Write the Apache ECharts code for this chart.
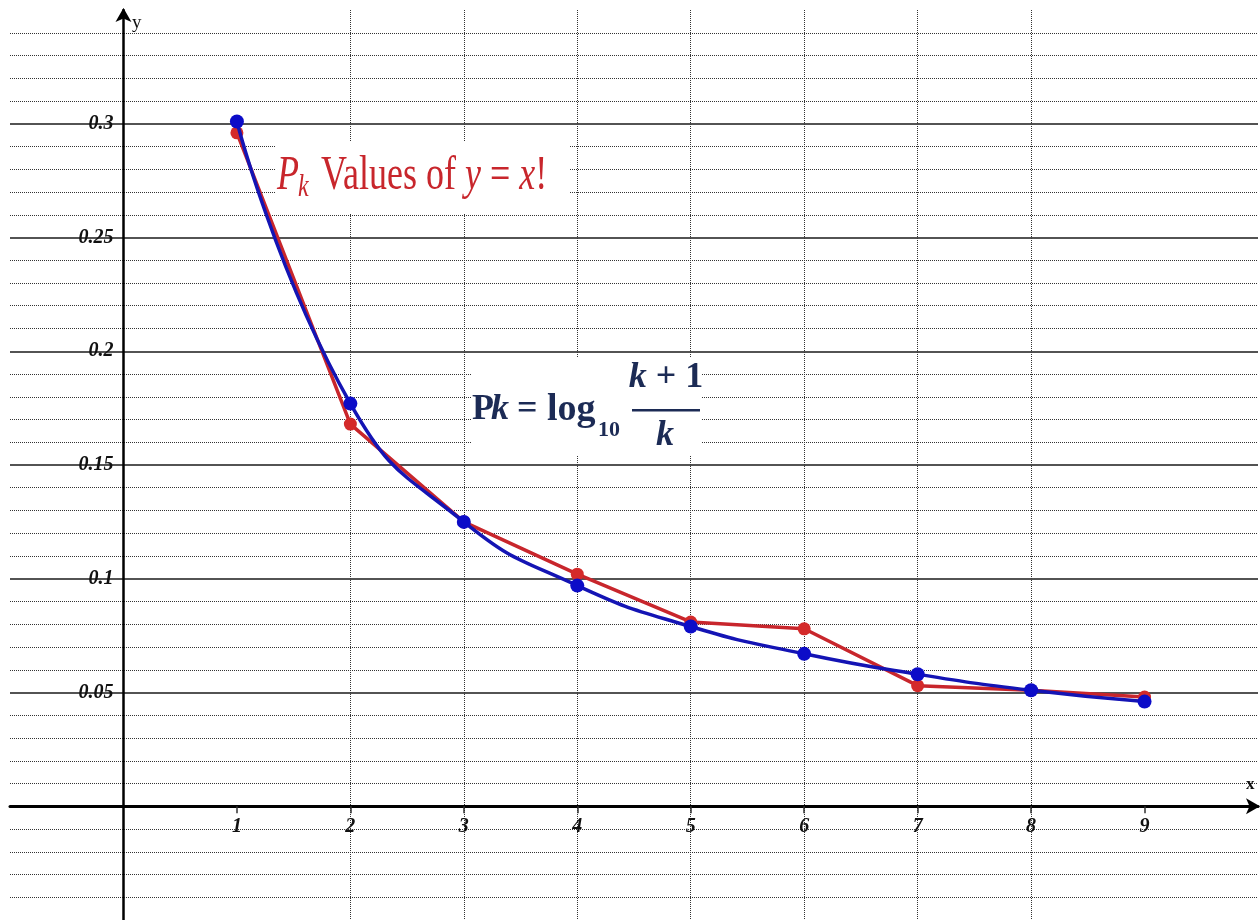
<!DOCTYPE html>
<html>
<head>
<meta charset="utf-8">
<script src="https://cdn.jsdelivr.net/npm/echarts@6/dist/echarts.min.js"></script>
<style>
html,body{margin:0;padding:0;background:#fff;}
#chart{width:1260px;height:920px;}
</style>
</head>
<body>
<div id="chart"></div>
<script>
// ---- data ----
var kValues = [1, 2, 3, 4, 5, 6, 7, 8, 9];
var factorialPk = [0.296, 0.168, 0.125, 0.102, 0.081, 0.078, 0.053, 0.051, 0.048];
var benfordPk = [0.301, 0.177, 0.125, 0.097, 0.079, 0.067, 0.058, 0.051, 0.046];
var xTickLabels = ['1', '2', '3', '4', '5', '6', '7', '8', '9'];
var yTickValues = [0.05, 0.1, 0.15, 0.2, 0.25, 0.3];
var yTickLabels = ['0.05', '0.1', '0.15', '0.2', '0.25', '0.3'];

var RED = '#c8262c';
var RED_DOT = '#d42a2a';
var BLUE = '#1414b4';
var BLUE_DOT = '#0c0cc8';
var NAVY = '#1c2b55';
var SERIF = '"Liberation Serif", "Times New Roman", serif';

function pairs(xs, ys) { return xs.map(function (x, i) { return [x, ys[i]]; }); }

var GRID_LEFT = 10, GRID_RIGHT = 2, GRID_TOP = 10, GRID_BOTTOM = 0;
var X_MIN = -1, X_MAX = 10, Y_MIN = -0.05, Y_MAX = 0.35;
var W = 1260, H = 920;
var plotW = W - GRID_LEFT - GRID_RIGHT, plotH = H - GRID_TOP - GRID_BOTTOM;
// offsets to move the axes (line + labels) onto the zero lines
var yAxisOffset = -((0 - X_MIN) / (X_MAX - X_MIN)) * plotW;
var xAxisOffset = -((0 - Y_MIN) / (Y_MAX - Y_MIN)) * plotH;

var chart = echarts.init(document.getElementById('chart'), null, {renderer: 'canvas'});
var option = {
  animation: false,
  backgroundColor: '#ffffff',
  grid: {left: GRID_LEFT, right: GRID_RIGHT, top: GRID_TOP, bottom: GRID_BOTTOM, containLabel: false, outerBoundsMode: 'none'},
  xAxis: {
    type: 'value', min: X_MIN, max: X_MAX, interval: 1, position: 'bottom', offset: xAxisOffset,
    axisLine: {show: true, onZero: false, symbol: ['none', 'arrow'], symbolSize: [12, 14], symbolOffset: [0, 2],
      lineStyle: {color: '#000', width: 3}},
    axisTick: {show: true, length: 7, lineStyle: {color: '#333', width: 1.5}, customValues: kValues},
    axisLabel: {
      show: true, margin: 11, color: '#111', fontFamily: SERIF, fontSize: 20, fontWeight: 'bold', fontStyle: 'italic',
      formatter: function (v) { var i = kValues.indexOf(Math.round(v)); return (i >= 0 && Math.abs(v - Math.round(v)) < 1e-9) ? xTickLabels[i] : ''; }
    },
    splitLine: {show: true, showMinLine: false, showMaxLine: false, lineStyle: {color: '#333', width: 1, type: 'dotted'}}
  },
  yAxis: {
    type: 'value', min: Y_MIN, max: Y_MAX, interval: 0.05, position: 'left', offset: yAxisOffset,
    axisLine: {show: true, onZero: false, symbol: ['none', 'arrow'], symbolSize: [12, 14], symbolOffset: [0, 2],
      lineStyle: {color: '#000', width: 2.5}},
    axisTick: {show: false},
    axisLabel: {
      show: true, margin: 10, color: '#111', fontFamily: SERIF, fontSize: 20, fontWeight: 'bold', fontStyle: 'italic',
      formatter: function (v) {
        for (var i = 0; i < yTickValues.length; i++) { if (Math.abs(v - yTickValues[i]) < 1e-9) return yTickLabels[i]; }
        return '';
      }
    },
    splitLine: {show: true, showMinLine: false, showMaxLine: false, lineStyle: {color: '#1a1a1a', width: 1.6, type: 'solid'}},
    minorTick: {show: false, splitNumber: 5},
    minorSplitLine: {show: true, lineStyle: {color: '#333', width: 1, type: 'dotted'}}
  },
  series: [
    {
      name: 'x! leading digits', type: 'line', data: pairs(kValues, factorialPk), z: 3,
      symbol: 'circle', symbolSize: 13, showSymbol: true,
      lineStyle: {color: RED, width: 3.5}, itemStyle: {color: RED_DOT}
    },
    {
      name: 'Benford', type: 'line', data: pairs(kValues, benfordPk), z: 4,
      smooth: true, symbol: 'circle', symbolSize: 14, showSymbol: true,
      lineStyle: {color: BLUE, width: 3.5}, itemStyle: {color: BLUE_DOT}
    }
  ],
  graphic: {elements: [
    // axis names
    {type: 'text', x: 132, y: 23, z: 60, style: {text: 'y', fontFamily: SERIF, fontSize: 19, fill: '#111', verticalAlign: 'middle'}},
    {type: 'text', x: 1246, y: 785, z: 60, style: {text: 'x', fontFamily: SERIF, fontSize: 17, fontWeight: 'bold', fill: '#111', verticalAlign: 'middle'}},
    // title box
    {type: 'rect', z: 50, shape: {x: 275, y: 141, width: 294, height: 72}, style: {fill: '#ffffff'}},
    {type: 'group', x: 277, y: 192, scaleY: 1.35, z: 60, children: [
      {type: 'text', x: 0, y: -12, z: 60, style: {text: 'P', fontFamily: SERIF, fontSize: 36, fontStyle: 'italic', fill: RED, verticalAlign: 'middle'}},
      {type: 'text', x: 21, y: -3.5, z: 60, style: {text: 'k', fontFamily: SERIF, fontSize: 24, fontStyle: 'italic', fill: RED, verticalAlign: 'middle'}},
      {type: 'text', x: 44, y: -12, z: 60, style: {
        text: '{r|Values of }{i|y}{r| = }{i|x}{r|!}', verticalAlign: 'middle', fontFamily: SERIF, fontSize: 36, fill: RED,
        rich: {
          r: {fontFamily: SERIF, fontSize: 36, fill: RED},
          i: {fontFamily: SERIF, fontSize: 36, fontStyle: 'italic', fill: RED}
        }}}
    ]},
    // formula box
    {type: 'rect', z: 50, shape: {x: 471, y: 358, width: 230, height: 97}, style: {fill: '#ffffff'}},
    {type: 'group', x: 0, y: 0, z: 60, children: [
      {type: 'text', x: 472, y: 410, z: 60, style: {text: 'P', fontFamily: SERIF, fontSize: 36, fontWeight: 'bold', fill: NAVY, verticalAlign: 'middle'}},
      {type: 'text', x: 491, y: 410, z: 60, style: {text: 'k', fontFamily: SERIF, fontSize: 36, fontWeight: 'bold', fontStyle: 'italic', fill: NAVY, verticalAlign: 'middle'}},
      {type: 'text', x: 517, y: 410, z: 60, style: {text: '=', fontFamily: SERIF, fontSize: 36, fontWeight: 'bold', fill: NAVY, verticalAlign: 'middle'}},
      {type: 'text', x: 547, y: 410, z: 60, style: {text: 'log', fontFamily: SERIF, fontSize: 38, fontWeight: 'bold', fill: NAVY, verticalAlign: 'middle'}},
      {type: 'text', x: 598, y: 430, z: 60, style: {text: '10', fontFamily: SERIF, fontSize: 22, fontWeight: 'bold', fill: NAVY, verticalAlign: 'middle'}},
      {type: 'text', x: 666, y: 378, z: 60, style: {
        text: '{i|k} + 1', align: 'center', verticalAlign: 'middle', fontFamily: SERIF, fontSize: 36, fontWeight: 'bold', fill: NAVY,
        rich: {i: {fontFamily: SERIF, fontSize: 36, fontWeight: 'bold', fontStyle: 'italic', fill: NAVY}}}},
      {type: 'rect', z: 60, shape: {x: 632, y: 409, width: 68, height: 2.5}, style: {fill: NAVY}},
      {type: 'text', x: 665, y: 436, z: 60, style: {text: 'k', align: 'center', fontFamily: SERIF, fontSize: 36, fontWeight: 'bold', fontStyle: 'italic', fill: NAVY, verticalAlign: 'middle'}}
    ]}
  ]}
};
chart.setOption(option);
</script>
</body>
</html>
